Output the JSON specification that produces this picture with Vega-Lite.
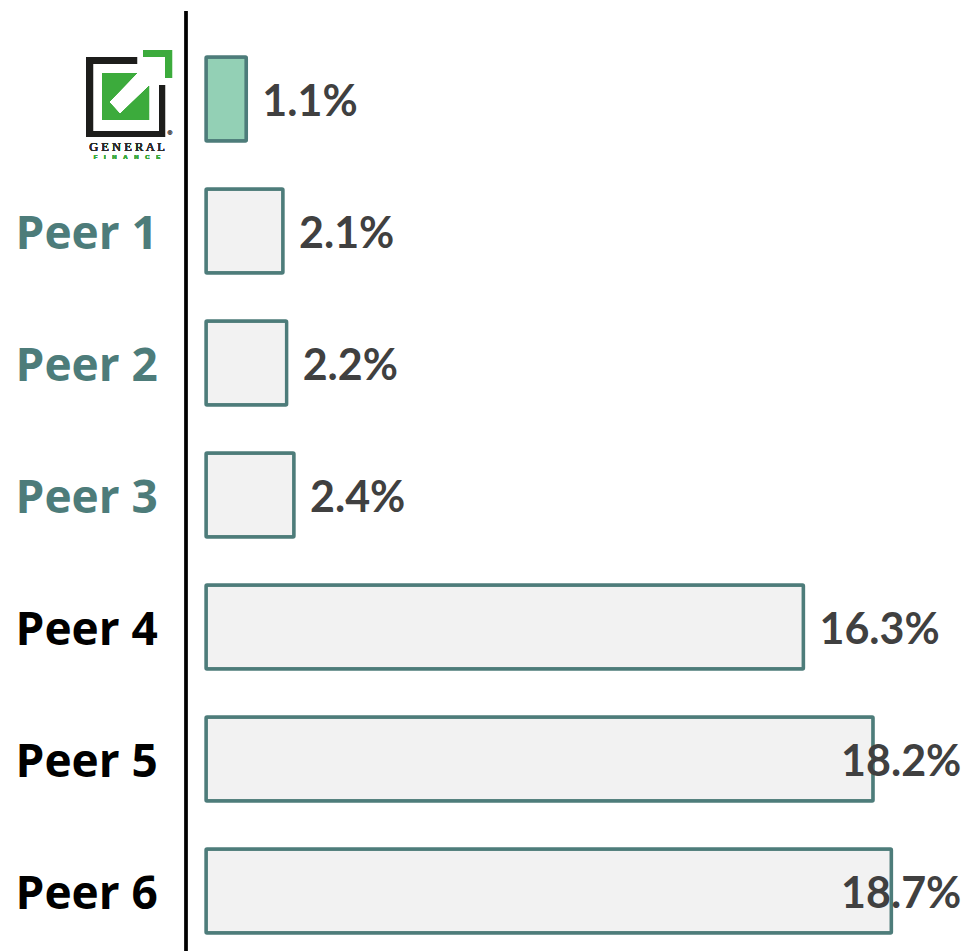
{
"$schema":"https://vega.github.io/schema/vega-lite/v6.json",
"width":778,"height":940,
"autosize":{"type":"none"},
"padding":{"left":186,"top":11,"right":0,"bottom":0},
"background":"white",
"view":{"stroke":null},
"data":{"values":[
{"company":"General Finance","value":1.1,"label":"1.1%","group":"self"},
{"company":"Peer 1","value":2.1,"label":"2.1%","group":"peer"},
{"company":"Peer 2","value":2.2,"label":"2.2%","group":"peer"},
{"company":"Peer 3","value":2.4,"label":"2.4%","group":"peer"},
{"company":"Peer 4","value":16.3,"label":"16.3%","group":"peer"},
{"company":"Peer 5","value":18.2,"label":"18.2%","group":"peer"},
{"company":"Peer 6","value":18.7,"label":"18.7%","group":"peer"}
]},
"encoding":{
"y":{"field":"company","type":"nominal","sort":null,
"scale":{"range":[22,946],"paddingInner":0.364,"paddingOuter":0.182},
"axis":{"title":null,"domain":false,"ticks":false,"labelPadding":171,"labelAlign":"left","labelFont":"Open Sans","labelFontWeight":"bold","labelFontSize":46,"labelLimit":0,"labelOffset":4,
"labelExpr":"datum.label=='General Finance'?'':datum.label",
"labelColor":{"expr":"datum.label=='Peer 1'||datum.label=='Peer 2'||datum.label=='Peer 3'?'#4d7c7a':'#000000'"}}}
},
"layer":[
{"mark":{"type":"bar","strokeWidth":3.4,"stroke":"#4d7c7a","cornerRadius":1},
"encoding":{
"x":{"field":"value","type":"quantitative","scale":{"domain":[-0.546,20.68],"nice":false,"zero":false},"axis":null},
"fill":{"field":"group","type":"nominal","scale":{"domain":["self","peer"],"range":["#93d0b5","#f2f2f2"]},"legend":null}}},
{"transform":[{"calculate":"min(datum.value,16.89)","as":"labelAt"}],
"mark":{"type":"text","align":"left","baseline":"middle","dx":16,"dy":4,"font":"Lato","fontWeight":"bold","fontSize":43,"fill":"#404040"},
"encoding":{"x":{"field":"labelAt","type":"quantitative"},"text":{"field":"label"}}},
{"mark":{"type":"rule","stroke":"#000000","strokeWidth":2.5},"encoding":{"x":{"datum":-0.546},"y":{"value":0},"y2":{"value":940}}},
{"mark":{"type":"point","filled":true,"opacity":1,"fill":"#1d1d1b","stroke":null,"size":10000,"shape":"M-.86,-.84L.16,-.84L.16,-.7L-.72,-.7L-.72,.64L.6,.64L.6,-.28L.72,-.28L.72,.76L-.86,.76Z"},
"encoding":{"x":{"datum":-2.1},"y":{"datum":"General Finance"}}},
{"mark":{"type":"point","filled":true,"opacity":1,"fill":"#3cab3c","stroke":null,"size":10000,"shape":"M.28,-.98L.86,-.98L.86,-.42L.72,-.42L.72,-.84L.28,-.84Z"},
"encoding":{"x":{"datum":-2.1},"y":{"datum":"General Finance"}}},
{"mark":{"type":"point","filled":true,"opacity":1,"fill":"#3cab3c","stroke":null,"size":10000,"shape":"M-.54,-.52L.16,-.52L-.4,.06L-.18,.3L.4,-.26L.4,.42L-.54,.42Z"},
"encoding":{"x":{"datum":-2.1},"y":{"datum":"General Finance"}}},
{"mark":{"type":"text","text":"G E N E R A L","font":"Liberation Serif","fontWeight":"normal","fontSize":12.5,"fill":"#2b2b2b","align":"center","baseline":"middle","dx":-2,"dy":48},
"encoding":{"x":{"datum":-2.1},"y":{"datum":"General Finance"}}},
{"mark":{"type":"text","text":"F\u00a0\u00a0\u00a0\u00a0I\u00a0\u00a0\u00a0\u00a0N\u00a0\u00a0\u00a0\u00a0A\u00a0\u00a0\u00a0\u00a0N\u00a0\u00a0\u00a0\u00a0C\u00a0\u00a0\u00a0\u00a0E","font":"Liberation Sans","fontWeight":"bold","fontSize":6,"fill":"#3cab3c","align":"center","baseline":"middle","dx":-2,"dy":58},
"encoding":{"x":{"datum":-2.1},"y":{"datum":"General Finance"}}},
{"mark":{"type":"text","text":"®","font":"Liberation Sans","fontSize":6,"fill":"#555555","align":"center","baseline":"middle","dx":41,"dy":34},
"encoding":{"x":{"datum":-2.1},"y":{"datum":"General Finance"}}}
]
}
